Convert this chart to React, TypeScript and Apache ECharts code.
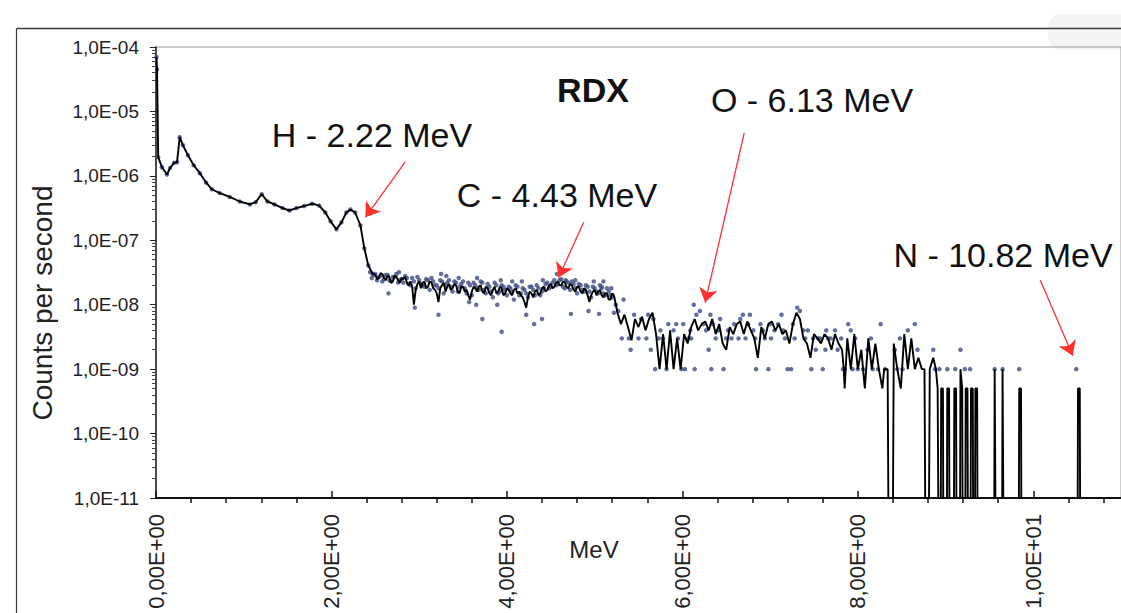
import React, { useEffect, useRef } from "react";
import * as echarts from "echarts";

// zero counts: plotted below the log axis floor and clipped
const Z = 1e-14;

// ---- line (smoothed spectrum), [MeV, counts per second]
const lineSmooth: number[][] = [
  [0.005, 7.0e-5], [0.012, 4.5e-5], [0.025, 1.95e-6], [0.068, 1.36e-6], [0.125, 1.05e-6],
  [0.16, 1.32e-6], [0.205, 1.59e-6], [0.24, 1.63e-6], [0.27, 3.98e-6], [0.307, 2.99e-6],
  [0.364, 2.09e-6], [0.43, 1.46e-6], [0.5, 1.1e-6], [0.57, 7.9e-7], [0.636, 6.2e-7],
  [0.727, 5.4e-7], [0.84, 4.7e-7], [0.955, 4.0e-7], [1.07, 3.6e-7], [1.136, 3.9e-7],
  [1.205, 5.2e-7], [1.27, 4.0e-7], [1.35, 3.6e-7], [1.443, 3.16e-7], [1.52, 2.9e-7],
  [1.6, 3.16e-7], [1.69, 3.4e-7], [1.78, 3.7e-7], [1.86, 3.45e-7], [1.93, 2.7e-7],
  [1.99, 1.97e-7], [2.057, 1.48e-7], [2.114, 1.9e-7], [2.17, 2.7e-7], [2.216, 3.0e-7],
  [2.27, 2.7e-7], [2.33, 1.7e-7], [2.375, 7.5e-8], [2.42, 4.07e-8], [2.466, 3.05e-8],
];

const lineBandA: number[][] = [
  [2.50, 2.9e-8], [2.52, 2.5e-8], [2.54, 2.6e-8], [2.56, 3.1e-8], [2.58, 3.0e-8], [2.60, 2.6e-8],
  [2.62, 2.4e-8], [2.64, 2.8e-8], [2.66, 2.7e-8], [2.68, 2.2e-8], [2.70, 2.3e-8], [2.72, 2.8e-8],
  [2.74, 2.7e-8], [2.76, 2.4e-8], [2.78, 2.2e-8], [2.80, 2.6e-8], [2.82, 2.5e-8], [2.84, 2.7e-8],
  [2.86, 2.2e-8], [2.88, 2.0e-8], [2.90, 2.3e-8], [2.92, 1.9e-8], [2.94, 1.0e-8], [2.96, 1.7e-8],
  [2.98, 2.1e-8], [3.00, 2.3e-8], [3.02, 1.8e-8], [3.04, 2.2e-8], [3.06, 2.3e-8], [3.08, 1.8e-8],
  [3.10, 1.9e-8], [3.12, 2.3e-8], [3.14, 2.2e-8], [3.16, 1.8e-8], [3.18, 1.7e-8], [3.20, 1.5e-8],
  [3.22, 1.1e-8], [3.24, 1.8e-8], [3.26, 2.0e-8], [3.28, 2.2e-8], [3.30, 1.6e-8], [3.32, 1.9e-8],
  [3.34, 2.1e-8], [3.36, 1.7e-8], [3.38, 1.8e-8], [3.40, 2.1e-8], [3.42, 2.0e-8], [3.44, 1.6e-8],
  [3.46, 1.5e-8], [3.48, 1.9e-8], [3.50, 1.9e-8], [3.52, 1.6e-8], [3.54, 1.7e-8], [3.56, 1.4e-8],
  [3.58, 1.2e-8], [3.60, 1.6e-8], [3.62, 1.9e-8], [3.64, 1.8e-8], [3.66, 1.6e-8], [3.68, 1.9e-8],
  [3.70, 2.0e-8], [3.72, 1.6e-8], [3.74, 1.5e-8], [3.76, 1.9e-8], [3.78, 1.8e-8], [3.80, 1.5e-8],
  [3.82, 1.4e-8], [3.84, 1.7e-8], [3.86, 1.9e-8], [3.88, 1.5e-8], [3.90, 1.6e-8], [3.92, 1.9e-8],
  [3.94, 1.8e-8], [3.96, 1.4e-8], [3.98, 1.5e-8], [4.00, 1.8e-8], [4.02, 1.7e-8], [4.04, 1.5e-8],
  [4.06, 1.4e-8], [4.08, 1.7e-8], [4.10, 1.8e-8], [4.12, 1.5e-8], [4.14, 1.6e-8], [4.16, 1.4e-8],
  [4.18, 1.3e-8], [4.20, 1.1e-8], [4.22, 0.9e-8], [4.24, 1.3e-8], [4.26, 1.6e-8], [4.28, 1.5e-8],
  [4.30, 1.3e-8], [4.32, 1.6e-8], [4.34, 1.7e-8], [4.36, 1.4e-8], [4.38, 1.5e-8], [4.40, 1.8e-8],
  [4.42, 1.9e-8], [4.44, 1.6e-8], [4.46, 1.7e-8], [4.48, 2.0e-8], [4.50, 2.1e-8], [4.52, 1.8e-8],
  [4.54, 1.9e-8], [4.56, 2.2e-8], [4.58, 2.3e-8], [4.60, 2.0e-8], [4.62, 2.0e-8], [4.64, 2.3e-8],
  [4.66, 2.2e-8], [4.68, 1.9e-8], [4.70, 1.8e-8], [4.72, 2.1e-8], [4.74, 2.0e-8], [4.76, 1.7e-8],
  [4.78, 1.6e-8], [4.80, 1.9e-8], [4.82, 1.9e-8], [4.84, 1.6e-8], [4.86, 1.5e-8], [4.88, 1.8e-8],
  [4.90, 1.7e-8], [4.92, 1.4e-8], [4.94, 1.1e-8], [4.96, 1.4e-8], [4.98, 1.6e-8], [5.00, 1.7e-8],
  [5.02, 1.4e-8], [5.04, 1.6e-8], [5.06, 1.7e-8], [5.08, 1.4e-8], [5.10, 1.3e-8], [5.12, 1.5e-8],
  [5.14, 1.5e-8], [5.16, 1.2e-8], [5.18, 1.2e-8], [5.20, 1.5e-8], [5.22, 1.4e-8],
];

const lineBandB: number[][] = [
  [5.26, 7.5e-9], [5.30, 5.0e-9], [5.34, 7.0e-9], [5.38, 4.5e-9], [5.42, 2.8e-9],
  [5.46, 6.0e-9], [5.50, 4.5e-9], [5.54, 6.5e-9], [5.58, 4.0e-9], [5.62, 6.0e-9],
  [5.66, 7.5e-9], [5.70, 3.5e-9], [5.74, 1.0e-9], [5.78, 3.5e-9], [5.82, 1.0e-9],
  [5.86, 4.0e-9], [5.90, 1.0e-9], [5.94, 3.0e-9], [5.98, 1.0e-9], [6.02, 3.5e-9],
  [6.06, 2.5e-9], [6.10, 4.5e-9], [6.14, 6.0e-9], [6.18, 4.0e-9], [6.22, 5.0e-9],
  [6.26, 5.5e-9], [6.30, 4.0e-9], [6.34, 6.0e-9], [6.38, 3.5e-9], [6.42, 5.0e-9],
  [6.46, 2.5e-9], [6.50, 2.0e-9], [6.54, 4.5e-9], [6.58, 3.5e-9], [6.62, 5.0e-9],
  [6.66, 5.5e-9], [6.70, 3.5e-9], [6.74, 5.5e-9], [6.78, 4.0e-9], [6.82, 3.0e-9],
  [6.86, 1.5e-9], [6.90, 4.5e-9], [6.94, 3.0e-9], [6.98, 5.0e-9], [7.02, 5.5e-9],
  [7.06, 4.0e-9], [7.10, 5.0e-9], [7.14, 3.5e-9], [7.18, 4.0e-9], [7.22, 2.5e-9],
  [7.26, 5.0e-9], [7.30, 7.5e-9], [7.34, 6.0e-9], [7.38, 3.0e-9], [7.42, 2.5e-9],
  [7.46, 1.5e-9], [7.50, 3.5e-9], [7.54, 3.0e-9], [7.58, 2.5e-9], [7.62, 3.5e-9],
  [7.66, 3.0e-9], [7.70, 2.0e-9], [7.74, 3.5e-9], [7.78, 2.5e-9], [7.82, 2.0e-9],
  [7.84, 1.0e-9], [7.85, 0.5e-9], [7.88, 3.0e-9], [7.92, 1.0e-9], [7.96, 3.5e-9],
  [8.00, 1.0e-9], [8.04, 2.0e-9], [8.08, 0.5e-9], [8.12, 3.0e-9], [8.16, 1.0e-9],
  [8.20, 2.5e-9], [8.24, 1.0e-9], [8.28, 0.5e-9], [8.30, 1.0e-9],
];

const lineTail: number[][] = [
  [8.34, 1e-9], [8.36, Z], [8.39, Z], [8.41, 2.5e-9], [8.45, 1e-9], [8.49, 5e-10],
  [8.53, 3.5e-9], [8.57, 1e-9], [8.61, 3e-9], [8.65, 1e-9], [8.69, 1.5e-9], [8.73, 1e-9],
  [8.76, 1e-9], [8.78, Z], [8.80, Z], [8.82, 1e-9], [8.86, 1.5e-9], [8.89, 1e-9],
  [8.91, 5e-10], [8.93, Z],
  [8.94, Z], [8.95, 5e-10], [8.97, 5e-10], [8.98, Z],
  [9.01, Z], [9.02, 5e-10], [9.04, 5e-10], [9.05, Z],
  [9.09, Z], [9.10, 5e-10], [9.12, 5e-10], [9.13, Z],
  [9.16, Z], [9.17, 1e-9], [9.19, 5e-10], [9.20, Z],
  [9.22, Z], [9.23, 5e-10], [9.25, 5e-10], [9.26, Z],
  [9.28, Z], [9.29, 5e-10], [9.31, 5e-10], [9.32, Z],
  [9.33, Z], [9.34, 5e-10], [9.36, 5e-10], [9.37, Z],
  [9.55, Z], [9.56, 1e-9], [9.58, Z],
  [9.64, Z], [9.65, 1e-9], [9.67, Z],
  [9.83, Z], [9.84, 5e-10], [9.86, 5e-10], [9.87, Z],
  [10.50, Z], [10.51, 5e-10], [10.53, 5e-10], [10.54, Z],
  [11.0, Z],
];

// ---- measured points (dots)
const dotsBandA: number[][] = [
  [2.44, 3.2e-8], [2.48, 2.9e-8], [2.52, 2.4e-8], [2.56, 2.8e-8], [2.60, 2.5e-8], [2.64, 2.9e-8],
  [2.68, 2.3e-8], [2.72, 2.7e-8], [2.76, 2.2e-8], [2.80, 2.5e-8], [2.84, 2.8e-8], [2.88, 2.1e-8],
  [2.92, 2.6e-8], [2.96, 1.8e-8], [3.00, 2.4e-8], [3.04, 2.0e-8], [3.08, 2.5e-8], [3.12, 1.7e-8],
  [3.16, 2.3e-8], [3.20, 2.0e-8], [3.24, 2.4e-8], [3.28, 1.5e-8], [3.32, 2.2e-8], [3.36, 1.9e-8],
  [3.40, 2.3e-8], [3.44, 1.6e-8], [3.48, 2.1e-8], [3.52, 1.8e-8], [3.56, 2.2e-8], [3.60, 1.4e-8],
  [3.64, 2.0e-8], [3.68, 1.7e-8], [3.72, 2.2e-8], [3.76, 1.5e-8], [3.80, 1.9e-8], [3.84, 1.3e-8],
  [3.88, 2.0e-8], [3.92, 1.6e-8], [3.96, 1.9e-8], [4.00, 1.4e-8], [4.04, 1.8e-8], [4.08, 1.2e-8],
  [4.12, 1.9e-8], [4.16, 1.5e-8], [4.20, 1.7e-8], [4.24, 1.3e-8], [4.28, 1.9e-8], [4.32, 1.4e-8],
  [4.36, 1.8e-8], [4.40, 1.6e-8], [4.44, 2.1e-8], [4.48, 1.8e-8], [4.52, 2.2e-8], [4.56, 2.0e-8],
  [4.60, 2.4e-8], [4.64, 1.9e-8], [4.68, 2.3e-8], [4.72, 1.7e-8], [4.76, 2.1e-8], [4.80, 1.5e-8],
  [4.84, 2.0e-8], [4.88, 1.6e-8], [4.92, 1.9e-8], [4.96, 1.3e-8], [5.00, 1.8e-8], [5.04, 1.5e-8],
  [5.08, 1.9e-8], [5.12, 1.4e-8], [5.16, 1.6e-8], [5.20, 1.3e-8],
];

const dotsBandA2: number[][] = [
  [2.46, 2.6e-8], [2.50, 3.0e-8], [2.54, 2.7e-8], [2.58, 2.3e-8], [2.62, 2.9e-8], [2.66, 2.4e-8],
  [2.70, 2.7e-8], [2.74, 3.0e-8], [2.78, 2.4e-8], [2.82, 2.2e-8], [2.86, 2.6e-8], [2.90, 2.0e-8],
  [2.94, 2.3e-8], [2.98, 2.7e-8], [3.02, 2.1e-8], [3.06, 1.9e-8], [3.10, 2.4e-8], [3.14, 2.6e-8],
  [3.18, 2.0e-8], [3.22, 1.8e-8], [3.26, 2.3e-8], [3.30, 2.0e-8], [3.34, 2.4e-8], [3.38, 1.6e-8],
  [3.42, 2.2e-8], [3.46, 1.9e-8], [3.50, 2.3e-8], [3.54, 1.5e-8], [3.58, 2.0e-8], [3.62, 2.2e-8],
  [3.66, 1.8e-8], [3.70, 2.3e-8], [3.74, 1.7e-8], [3.78, 2.1e-8], [3.82, 1.6e-8], [3.86, 2.2e-8],
  [3.90, 1.5e-8], [3.94, 2.0e-8], [3.98, 1.7e-8], [4.02, 1.9e-8], [4.06, 1.6e-8], [4.10, 2.0e-8],
  [4.14, 1.4e-8], [4.18, 1.8e-8], [4.22, 1.5e-8], [4.26, 1.9e-8], [4.30, 1.7e-8], [4.34, 2.0e-8],
  [4.38, 1.4e-8], [4.42, 1.8e-8], [4.46, 2.2e-8], [4.50, 1.9e-8], [4.54, 2.4e-8], [4.58, 2.1e-8],
  [4.62, 2.5e-8], [4.66, 1.8e-8], [4.70, 2.2e-8], [4.74, 2.3e-8], [4.78, 1.8e-8], [4.82, 2.1e-8],
  [4.86, 1.7e-8], [4.90, 2.0e-8], [4.94, 1.6e-8], [4.98, 1.9e-8], [5.02, 1.6e-8], [5.06, 2.0e-8],
  [5.10, 1.5e-8], [5.14, 1.8e-8], [5.18, 1.4e-8],
];

const dotsOutliers: number[][] = [
  [2.65, 1.5e-8], [2.77, 3.2e-8], [2.95, 0.9e-8], [3.22, 0.7e-8], [3.25, 3.0e-8], [3.31, 2.8e-8],
  [3.45, 2.6e-8], [3.57, 1.1e-8], [3.65, 1.0e-8], [3.66, 2.6e-8], [3.72, 0.6e-8], [3.89, 1.0e-8],
  [3.93, 2.4e-8], [3.94, 0.38e-8], [4.06, 2.3e-8], [4.17, 2.3e-8], [4.22, 0.7e-8], [4.31, 0.5e-8],
  [4.40, 0.6e-8], [4.41, 2.4e-8], [4.57, 3.0e-8], [4.67, 2.4e-8], [4.73, 0.72e-8], [4.78, 2.4e-8],
  [4.93, 0.8e-8], [4.99, 2.3e-8], [5.05, 0.72e-8], [5.10, 2.3e-8], [5.22, 0.75e-8],
];

const dotsBandB: number[][] = [
  [5.08, 1.8e-8], [5.19, 1.8e-8], [5.24, 1.0e-8], [5.27, 8e-9], [5.31, 3e-9], [5.33, 1.2e-8],
  [5.39, 3e-9], [5.41, 2e-9], [5.45, 7e-9], [5.50, 3e-9], [5.53, 6e-9], [5.59, 3e-9], [5.61, 7e-9],
  [5.64, 2e-9], [5.67, 6e-9], [5.69, 1e-9], [5.73, 3e-9], [5.75, 4e-9], [5.78, 3e-9], [5.82, 1e-9],
  [5.84, 5e-9], [5.90, 4e-9], [5.93, 5e-9], [5.95, 3e-9], [5.99, 1e-9], [6.01, 5e-9], [6.03, 1e-9],
  [6.07, 3e-9], [6.09, 4e-9], [6.10, 3e-9], [6.13, 1e-8], [6.14, 1e-9], [6.16, 7e-9], [6.20, 8e-9],
  [6.24, 5e-9], [6.27, 4e-9], [6.30, 2e-9], [6.32, 7e-9], [6.33, 1e-9], [6.35, 5e-9], [6.38, 3e-9],
  [6.41, 4e-9], [6.43, 6e-9], [6.47, 1e-9], [6.50, 3e-9], [6.52, 4e-9], [6.56, 3e-9], [6.59, 5e-9],
  [6.64, 3e-9], [6.66, 6e-9], [6.69, 7e-9], [6.72, 3e-9], [6.75, 5e-9], [6.77, 7e-9], [6.81, 4e-9],
  [6.83, 3e-9], [6.84, 1e-9], [6.89, 5e-9], [6.92, 4e-9], [6.94, 3e-9], [6.98, 1e-9], [7.00, 5e-9],
  [7.01, 3e-9], [7.05, 4e-9], [7.09, 5e-9], [7.13, 7e-9], [7.15, 4e-9], [7.17, 3e-9], [7.20, 1e-9],
  [7.24, 1e-9], [7.26, 5e-9], [7.28, 3e-9], [7.31, 9e-9], [7.34, 8e-9], [7.38, 4e-9], [7.40, 3e-9],
  [7.43, 4e-9], [7.47, 1e-9], [7.49, 3e-9], [7.52, 2e-9], [7.55, 3e-9], [7.57, 3e-9], [7.60, 1e-9],
  [7.63, 2e-9], [7.64, 4e-9], [7.66, 3e-9], [7.69, 3e-9], [7.74, 4e-9], [7.77, 2e-9], [7.81, 3e-9],
  [7.83, 1e-9], [7.85, 1e-9], [7.89, 5e-9], [7.92, 4e-9], [7.94, 1e-9], [7.97, 3e-9], [8.00, 1e-9],
  [8.06, 1e-9], [8.11, 2e-9], [8.15, 3e-9], [8.17, 1e-9], [8.23, 1e-9], [8.26, 5e-9], [8.31, 1e-9],
  [8.42, 2e-9], [8.45, 1e-9], [8.48, 3e-9], [8.51, 1e-9], [8.57, 4e-9], [8.65, 5e-9], [8.68, 2e-9],
  [8.86, 2e-9], [8.88, 1e-9], [8.93, 1e-9], [9.02, 1e-9], [9.11, 1e-9], [9.17, 2e-9], [9.22, 1e-9],
  [9.28, 1e-9], [9.56, 1e-9], [9.65, 1e-9], [9.84, 1e-9], [10.49, 1e-9],
];

// ---- axes
const xMin = 0;
const xMax = 11;
const xMajorStep = 2;
const xMinorTicks = [0.4, 0.8, 1.2, 1.6, 2.4, 2.8, 3.2, 3.6, 4.4, 4.8, 5.2, 5.6, 6.4, 6.8, 7.2, 7.6, 8.4, 8.8, 9.2, 9.6, 10.4, 10.8];
const yMinExp = -11;
const yMaxExp = -4;
const yMinorMantissas = [2, 3, 4, 5, 6, 7, 8, 9];

// ---- annotations: label, arrow tail and tip in data coordinates
const annotations = [
  { text: "H - 2.22 MeV", from: [2.84, 1.63e-6], to: [2.386, 2.27e-7] },
  { text: "C - 4.43 MeV", from: [4.875, 1.9e-7], to: [4.59, 2.65e-8] },
  { text: "O - 6.13 MeV", from: [6.705, 4.6e-6], to: [6.26, 1.08e-8] },
  { text: "N - 10.82 MeV", from: [10.08, 2.4e-8], to: [10.45, 1.62e-9] },
];
const sampleName = "RDX";

const FONT = "'Liberation Sans', Arial, sans-serif";

function fmtX(v: number): string {
  if (v === 0) return "0,00E+00";
  const e = Math.floor(Math.log10(v) + 1e-9);
  const m = v / Math.pow(10, e);
  return m.toFixed(2).replace(".", ",") + "E+" + String(e).padStart(2, "0");
}
function fmtY(v: number): string {
  const e = Math.round(Math.log10(v));
  return "1,0E" + (e < 0 ? "-" : "+") + String(Math.abs(e)).padStart(2, "0");
}

export default function App() {
  const ref = useRef<HTMLDivElement>(null);
  useEffect(() => {
    if (!ref.current) return;
    const chart = echarts.init(ref.current, undefined, { renderer: "svg" });

    const yMinor: number[] = [];
    for (let d = yMinExp; d < yMaxExp; d++) {
      for (const m of yMinorMantissas) yMinor.push(d + Math.log10(m));
    }

    const lineData = [...lineSmooth, ...lineBandA, ...lineBandB, ...lineTail];
    const dotData = [...lineSmooth, ...dotsBandA, ...dotsBandA2, ...dotsOutliers, ...dotsBandB];

    const textPos = [
      { x: 372, y: 135 },
      { x: 557, y: 195 },
      { x: 812, y: 100 },
      { x: 1003, y: 255 },
    ];

    chart.setOption({
      animation: false,
      backgroundColor: "#ffffff",
      grid: {
        left: 156,
        top: 47,
        width: 968,
        height: 451,
        show: true,
        borderColor: "#9a9a9a",
        borderWidth: 1,
        backgroundColor: "transparent",
      },
      xAxis: [
        {
          type: "value",
          min: xMin,
          max: xMax,
          interval: xMajorStep,
          axisLine: { show: true, onZero: false, lineStyle: { color: "#111", width: 2 } },
          axisTick: { show: true, inside: true, length: 7, lineStyle: { color: "#111", width: 1.5 } },
          axisLabel: {
            rotate: 90,
            margin: 16,
            formatter: fmtX,
            color: "#222",
            fontSize: 22,
            fontFamily: FONT,
            showMaxLabel: false,
          },
          splitLine: { show: false },
        },
        {
          type: "value",
          min: xMin,
          max: xMax,
          position: "bottom",
          axisLine: { show: false, onZero: false },
          axisTick: { show: true, inside: false, length: 5, customValues: xMinorTicks, lineStyle: { color: "#111", width: 1.5 } },
          axisLabel: { show: false },
          splitLine: { show: false },
        },
      ],
      yAxis: [
        {
          type: "log",
          logBase: 10,
          min: Math.pow(10, yMinExp),
          max: Math.pow(10, yMaxExp),
          splitNumber: yMaxExp - yMinExp,
          axisLine: { show: true, onZero: false, lineStyle: { color: "#222", width: 1.5 } },
          axisTick: { show: true, inside: false, length: 6, lineStyle: { color: "#222", width: 1 } },
          axisLabel: { formatter: fmtY, color: "#222", fontSize: 19, fontFamily: FONT, margin: 17 },
          splitLine: { show: false },
        },
        {
          type: "value",
          min: yMinExp,
          max: yMaxExp,
          position: "left",
          axisLine: { show: false, onZero: false },
          axisTick: { show: true, inside: false, length: 4, customValues: yMinor, lineStyle: { color: "#444", width: 1 } },
          axisLabel: { show: false },
          splitLine: { show: false },
        },
      ],
      series: [
        {
          type: "scatter",
          xAxisIndex: 0,
          yAxisIndex: 0,
          data: dotData,
          symbol: "circle",
          symbolSize: 4.5,
          itemStyle: { color: "#3d4c80" },
          z: 2,
          clip: true,
          silent: true,
        },
        {
          type: "line",
          xAxisIndex: 0,
          yAxisIndex: 0,
          data: lineData,
          showSymbol: false,
          clip: true,
          lineStyle: { color: "#000", width: 1.9 },
          z: 3,
          silent: true,
          markLine: {
            silent: true,
            symbol: ["none", "arrow"],
            symbolSize: 14,
            label: { show: false },
            lineStyle: { color: "#ff3030", width: 1.3, type: "solid" },
            itemStyle: { color: "#ff3030" },
            emphasis: { disabled: true },
            data: annotations.map((a) => [
              { coord: a.from, symbol: "none" },
              { coord: a.to, symbol: "arrow", symbolSize: 14 },
            ]),
          },
        },
      ],
      graphic: [
        {
          type: "rect",
          shape: { x: 1048, y: 14, width: 120, height: 36, r: 14 },
          style: { fill: "#f4f4f4" },
          z: -1,
          silent: true,
        },
        {
          type: "line",
          shape: { x1: 16.5, y1: 28.5, x2: 1121, y2: 28.5 },
          style: { stroke: "#3a3a3a", lineWidth: 1.5 },
          silent: true,
        },
        {
          type: "line",
          shape: { x1: 16.5, y1: 28.5, x2: 16.5, y2: 613 },
          style: { stroke: "#3a3a3a", lineWidth: 1.2 },
          silent: true,
        },
        {
          type: "text",
          x: 42,
          y: 303,
          rotation: Math.PI / 2,
          style: {
            text: "Counts per second",
            font: `28px ${FONT}`,
            fill: "#222",
            textAlign: "center",
            textVerticalAlign: "middle",
          },
          silent: true,
        },
        {
          type: "text",
          x: 594,
          y: 549,
          style: {
            text: "MeV",
            font: `24px ${FONT}`,
            fill: "#222",
            textAlign: "center",
            textVerticalAlign: "middle",
          },
          silent: true,
        },
        {
          type: "text",
          x: 593,
          y: 90,
          style: {
            text: sampleName,
            font: `bold 34px ${FONT}`,
            fill: "#111",
            textAlign: "center",
            textVerticalAlign: "middle",
          },
          silent: true,
        },
        ...annotations.map((a, i) => ({
          type: "text",
          x: textPos[i].x,
          y: textPos[i].y,
          style: {
            text: a.text,
            font: `34px ${FONT}`,
            fill: "#111",
            textAlign: "center",
            textVerticalAlign: "middle",
          },
          silent: true,
        })),
      ],
    });
    return () => chart.dispose();
  }, []);
  return (
    <div
      ref={ref}
      style={{ position: "absolute", left: 0, top: 0, width: 1121, height: 613, background: "#fff" }}
    />
  );
}
